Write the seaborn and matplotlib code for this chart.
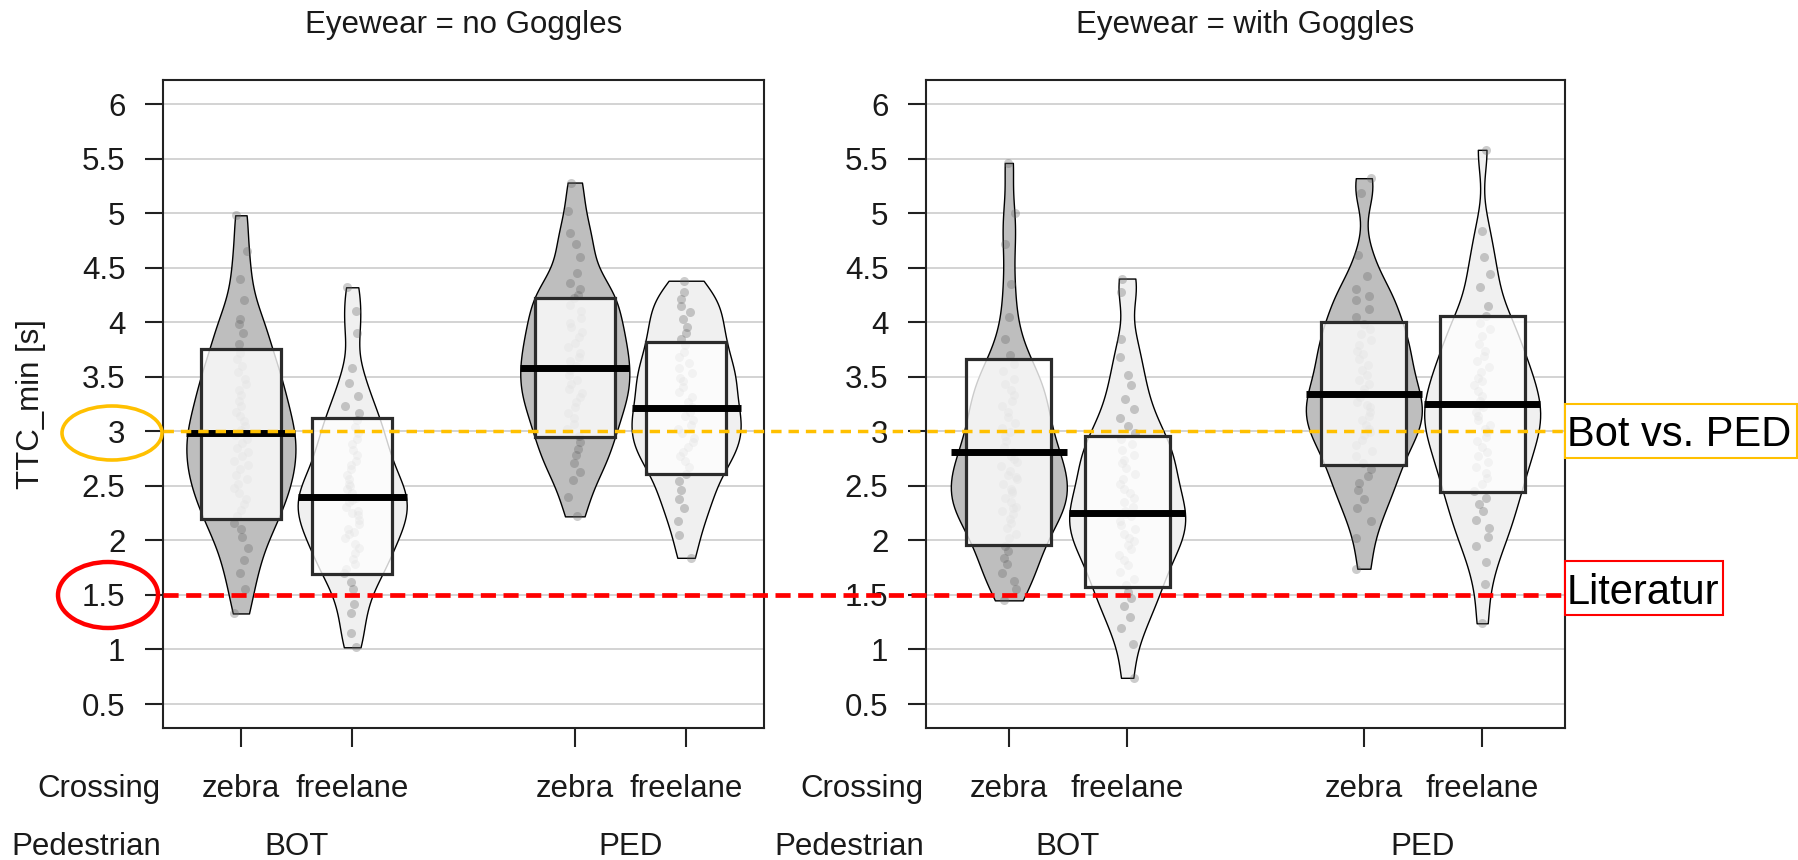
import numpy as np
import pandas as pd
import matplotlib
matplotlib.use("Agg")
import matplotlib.pyplot as plt
import matplotlib.transforms as mtransforms
from matplotlib.patches import Ellipse, Rectangle
from matplotlib.lines import Line2D
import seaborn as sns

# ---------------------------------------------------------------- data
positions = [1, 2, 4, 5]
crossing = ["zebra", "freelane", "zebra", "freelane"]
pedestrian = ["BOT", "PED"]
pedestrian_pos = [1.5, 4.5]
eyewear = ["no Goggles", "with Goggles"]

# TTC_min [s], Eyewear = no Goggles
ng_bot_zebra = [1.33, 1.55, 1.70, 1.82, 1.93, 2.03, 2.10, 2.16, 2.22, 2.28, 2.33, 2.38,
                2.43, 2.48, 2.52, 2.56, 2.60, 2.65, 2.69, 2.73, 2.77, 2.81, 2.85, 2.89,
                2.93, 2.97, 3.01, 3.05, 3.09, 3.14, 3.18, 3.23, 3.28, 3.33, 3.38, 3.43,
                3.48, 3.54, 3.60, 3.66, 3.72, 3.80, 3.90, 3.98, 4.03, 4.20, 4.40, 4.65,
                4.98]
ng_bot_freelane = [1.02, 1.15, 1.33, 1.42, 1.55, 1.62, 1.70, 1.74, 1.78, 1.83, 1.88, 1.93,
                   1.97, 2.02, 2.06, 2.08, 2.10, 2.15, 2.19, 2.23, 2.25, 2.27, 2.31, 2.35,
                   2.37, 2.39, 2.43, 2.47, 2.50, 2.52, 2.56, 2.60, 2.65, 2.69, 2.73, 2.78,
                   2.83, 2.88, 2.93, 2.98, 3.04, 3.10, 3.17, 3.23, 3.32, 3.44, 3.58, 3.90,
                   4.10, 4.32]
ng_ped_zebra = [2.22, 2.40, 2.55, 2.63, 2.71, 2.78, 2.84, 2.90, 2.96, 3.02, 3.07, 3.12,
                3.17, 3.22, 3.27, 3.31, 3.35, 3.39, 3.43, 3.47, 3.52, 3.56, 3.60, 3.64,
                3.68, 3.72, 3.77, 3.81, 3.86, 3.91, 3.96, 3.99, 4.04, 4.10, 4.16, 4.22,
                4.25, 4.30, 4.36, 4.45, 4.60, 4.72, 4.82, 5.02, 5.28]
ng_ped_freelane = [1.84, 2.05, 2.18, 2.30, 2.38, 2.46, 2.54, 2.61, 2.67, 2.73, 2.77, 2.81,
                   2.86, 2.90, 2.94, 2.98, 3.02, 3.06, 3.10, 3.14, 3.18, 3.22, 3.27, 3.31,
                   3.36, 3.41, 3.46, 3.49, 3.53, 3.58, 3.63, 3.68, 3.73, 3.79, 3.85, 3.90,
                   3.96, 4.03, 4.09, 4.15, 4.21, 4.28, 4.38]

# TTC_min [s], Eyewear = with Goggles
wg_bot_zebra = [1.45, 1.55, 1.63, 1.70, 1.78, 1.84, 1.90, 1.95, 2.02, 2.06, 2.11, 2.16,
                2.20, 2.24, 2.27, 2.30, 2.31, 2.35, 2.39, 2.43, 2.45, 2.47, 2.52, 2.56,
                2.58, 2.60, 2.64, 2.68, 2.72, 2.75, 2.77, 2.81, 2.86, 2.91, 2.96, 2.99,
                3.03, 3.08, 3.13, 3.18, 3.23, 3.28, 3.33, 3.38, 3.43, 3.48, 3.55, 3.62,
                3.70, 3.85, 4.05, 4.35, 4.72, 5.00, 5.46]
wg_bot_freelane = [0.74, 1.05, 1.20, 1.30, 1.40, 1.47, 1.53, 1.59, 1.65, 1.71, 1.77, 1.82,
                   1.87, 1.92, 1.96, 1.99, 2.02, 2.06, 2.10, 2.14, 2.18, 2.22, 2.24, 2.27,
                   2.31, 2.35, 2.39, 2.43, 2.47, 2.52, 2.56, 2.61, 2.66, 2.71, 2.74, 2.78,
                   2.83, 2.88, 2.93, 2.98, 3.05, 3.12, 3.20, 3.30, 3.42, 3.52, 3.68, 3.85,
                   4.28, 4.40]
wg_ped_zebra = [1.74, 2.02, 2.18, 2.30, 2.38, 2.46, 2.53, 2.59, 2.65, 2.71, 2.77, 2.82,
                2.87, 2.92, 2.97, 2.99, 3.02, 3.06, 3.10, 3.14, 3.18, 3.22, 3.24, 3.27,
                3.31, 3.35, 3.39, 3.43, 3.47, 3.52, 3.56, 3.61, 3.66, 3.71, 3.74, 3.79,
                3.84, 3.89, 3.94, 3.98, 4.05, 4.12, 4.20, 4.24, 4.30, 4.42, 4.62, 5.18,
                5.32]
wg_ped_freelane = [1.24, 1.60, 1.80, 1.95, 2.03, 2.11, 2.19, 2.27, 2.33, 2.39, 2.45, 2.52,
                   2.57, 2.62, 2.67, 2.72, 2.77, 2.81, 2.86, 2.91, 2.95, 2.99, 3.02, 3.06,
                   3.10, 3.14, 3.18, 3.22, 3.24, 3.28, 3.32, 3.37, 3.42, 3.46, 3.49, 3.54,
                   3.59, 3.64, 3.69, 3.74, 3.80, 3.87, 3.94, 3.99, 4.06, 4.15, 4.32, 4.44,
                   4.60, 4.84, 5.58]

# interquartile boxes and centre lines per bean (order: positions)
ng_box_low = [2.20, 1.69, 2.95, 2.61]
ng_box_high = [3.75, 3.12, 4.22, 3.82]
ng_center = [2.98, 2.40, 3.58, 3.21]
wg_box_low = [1.96, 1.57, 2.69, 2.44]
wg_box_high = [3.66, 2.96, 4.00, 4.06]
wg_center = [2.81, 2.25, 3.34, 3.25]

ref_levels = [3.0, 1.5]
ref_labels = ["Bot vs. PED", "Literatur"]

y_ticks = [0.5, 1, 1.5, 2, 2.5, 3, 3.5, 4, 4.5, 5, 5.5, 6]
y_tick_labels = ["0.5", "1", "1.5", "2", "2.5", "3", "3.5", "4", "4.5", "5", "5.5", "6"]


def long_table(groups):
    rows = []
    for pos, cross, vals in zip(positions, crossing, groups):
        for v in vals:
            rows.append({"pos": pos, "crossing": cross, "ttc": v})
    return pd.DataFrame(rows)


df_ng = long_table([ng_bot_zebra, ng_bot_freelane, ng_ped_zebra, ng_ped_freelane])
df_wg = long_table([wg_bot_zebra, wg_bot_freelane, wg_ped_zebra, wg_ped_freelane])

# ---------------------------------------------------------------- style
sns.set_style("white")
plt.rcParams["font.family"] = ["Liberation Sans", "DejaVu Sans"]

W, H = 1799, 860
fig = plt.figure(figsize=(W / 100, H / 100), dpi=100)


def fx(px):
    return px / W


def fy(py):
    return 1 - py / H


FS = 22.5
TXT = "#1a1a1a"
bean_fill = {"zebra": "#BEBEBE", "freelane": "#F0F0F0"}
GOLD = "#FFC000"
RED = "#FF0000"

panels = [
    (163, 764, df_ng, ng_box_low, ng_box_high, ng_center, eyewear[0]),
    (926, 1565, df_wg, wg_box_low, wg_box_high, wg_center, eyewear[1]),
]
axes = []
np.random.seed(7)
for left, right, df, lo, hi, cen, title in panels:
    ax = fig.add_axes([fx(left), fy(728), fx(right) - fx(left), (728 - 80) / H])
    axes.append(ax)

    sns.violinplot(data=df, x="pos", y="ttc", hue="crossing", native_scale=True,
                   dodge=False, cut=0, inner=None, density_norm="width", width=0.98,
                   bw_adjust=0.55, palette=bean_fill, linecolor="black", linewidth=1.0,
                   legend=False, ax=ax, zorder=1)
    sns.stripplot(data=df, x="pos", y="ttc", native_scale=True, jitter=0.07,
                  color="#666666", alpha=0.33, size=6.5, linewidth=0, ax=ax, zorder=2)

    heights = [h - l for h, l in zip(hi, lo)]
    ax.bar(positions, heights, bottom=lo, width=0.72, color=(1, 1, 1, 0.8),
           edgecolor="#2b2b2b", linewidth=2.3, zorder=3)
    ax.hlines(cen, [p - 0.49 for p in positions], [p + 0.49 for p in positions],
              color="black", linewidth=5, capstyle="butt", zorder=4)

    ax.set_xlim(0.3, 5.7)
    ax.set_ylim(0.28, 6.22)
    ax.set_yticks(y_ticks)
    ax.set_yticklabels(y_tick_labels)
    ax.set_xticks(positions)
    ax.set_xticklabels([])
    ax.set_xlabel("")
    ax.set_ylabel("")
    ax.yaxis.grid(True, color="#D3D3D3", linewidth=1.4)
    ax.xaxis.grid(False)
    ax.set_axisbelow(True)
    for sp in ax.spines.values():
        sp.set_visible(True)
        sp.set_color("#222222")
        sp.set_linewidth(1.5)
    ax.tick_params(axis="y", length=13, width=1.5, pad=14, labelsize=FS,
                   colors="#222222", labelcolor=TXT, left=True)
    ax.tick_params(axis="x", length=14, width=1.5, bottom=True, labelbottom=False,
                   colors="#222222")

    # facet title and two-level category labels
    fig.text(fx((left + right) / 2), fy(33), f"Eyewear = {title}", ha="center",
             va="baseline", fontsize=FS, color=TXT)
    fig.text(fx(left - 2), fy(797), "Crossing", ha="right", va="baseline",
             fontsize=FS, color=TXT)
    fig.text(fx(left - 2), fy(855), "Pedestrian", ha="right", va="baseline",
             fontsize=FS, color=TXT)
    tr = mtransforms.blended_transform_factory(ax.transData, fig.transFigure)
    for p, lab in zip(positions, crossing):
        ax.text(p, fy(797), lab, transform=tr, ha="center", va="baseline",
                fontsize=FS, color=TXT)
    for p, lab in zip(pedestrian_pos, pedestrian):
        ax.text(p, fy(855), lab, transform=tr, ha="center", va="baseline",
                fontsize=FS, color=TXT)

fig.text(fx(31), fy(404), "TTC_min [s]", rotation=90, ha="center", va="center",
         fontsize=FS, color=TXT)

# reference lines across both panels
ref_tr = mtransforms.blended_transform_factory(fig.transFigure, axes[0].transData)
fig.add_artist(Line2D([fx(163), fx(1565)], [ref_levels[0]] * 2, transform=ref_tr,
                      color=GOLD, linewidth=2.5, linestyle=(0, (3.0, 2.0)), zorder=10))
fig.add_artist(Line2D([fx(163), fx(1565)], [ref_levels[1]] * 2, transform=ref_tr,
                      color=RED, linewidth=3.4, linestyle=(0, (3.2, 1.6)), zorder=10))

# labelled boxes for the reference lines
for (x0, y0, x1, y1), col, lab in [((1565, 404, 1797, 458), GOLD, ref_labels[0]),
                                   ((1565, 561, 1723, 615), RED, ref_labels[1])]:
    fig.add_artist(Rectangle((fx(x0), fy(y1)), fx(x1) - fx(x0), (y1 - y0) / H,
                             transform=fig.transFigure, facecolor="white",
                             edgecolor=col, linewidth=1.5, zorder=11))
    fig.text(fx(x0 + 2), fy((y0 + y1) / 2), lab, ha="left", va="center_baseline",
             fontsize=30, color="black", zorder=12)

# highlight rings around the 3 and 1.5 tick labels
fig.add_artist(Ellipse((fx(112), fy(433)), 100 / W, 54 / H, transform=fig.transFigure,
                       fill=False, edgecolor=GOLD, linewidth=2.6, zorder=12))
fig.add_artist(Ellipse((fx(108), fy(595)), 100 / W, 66 / H, transform=fig.transFigure,
                       fill=False, edgecolor=RED, linewidth=3.2, zorder=12))

fig.savefig("out.png", dpi=100, facecolor="white")
